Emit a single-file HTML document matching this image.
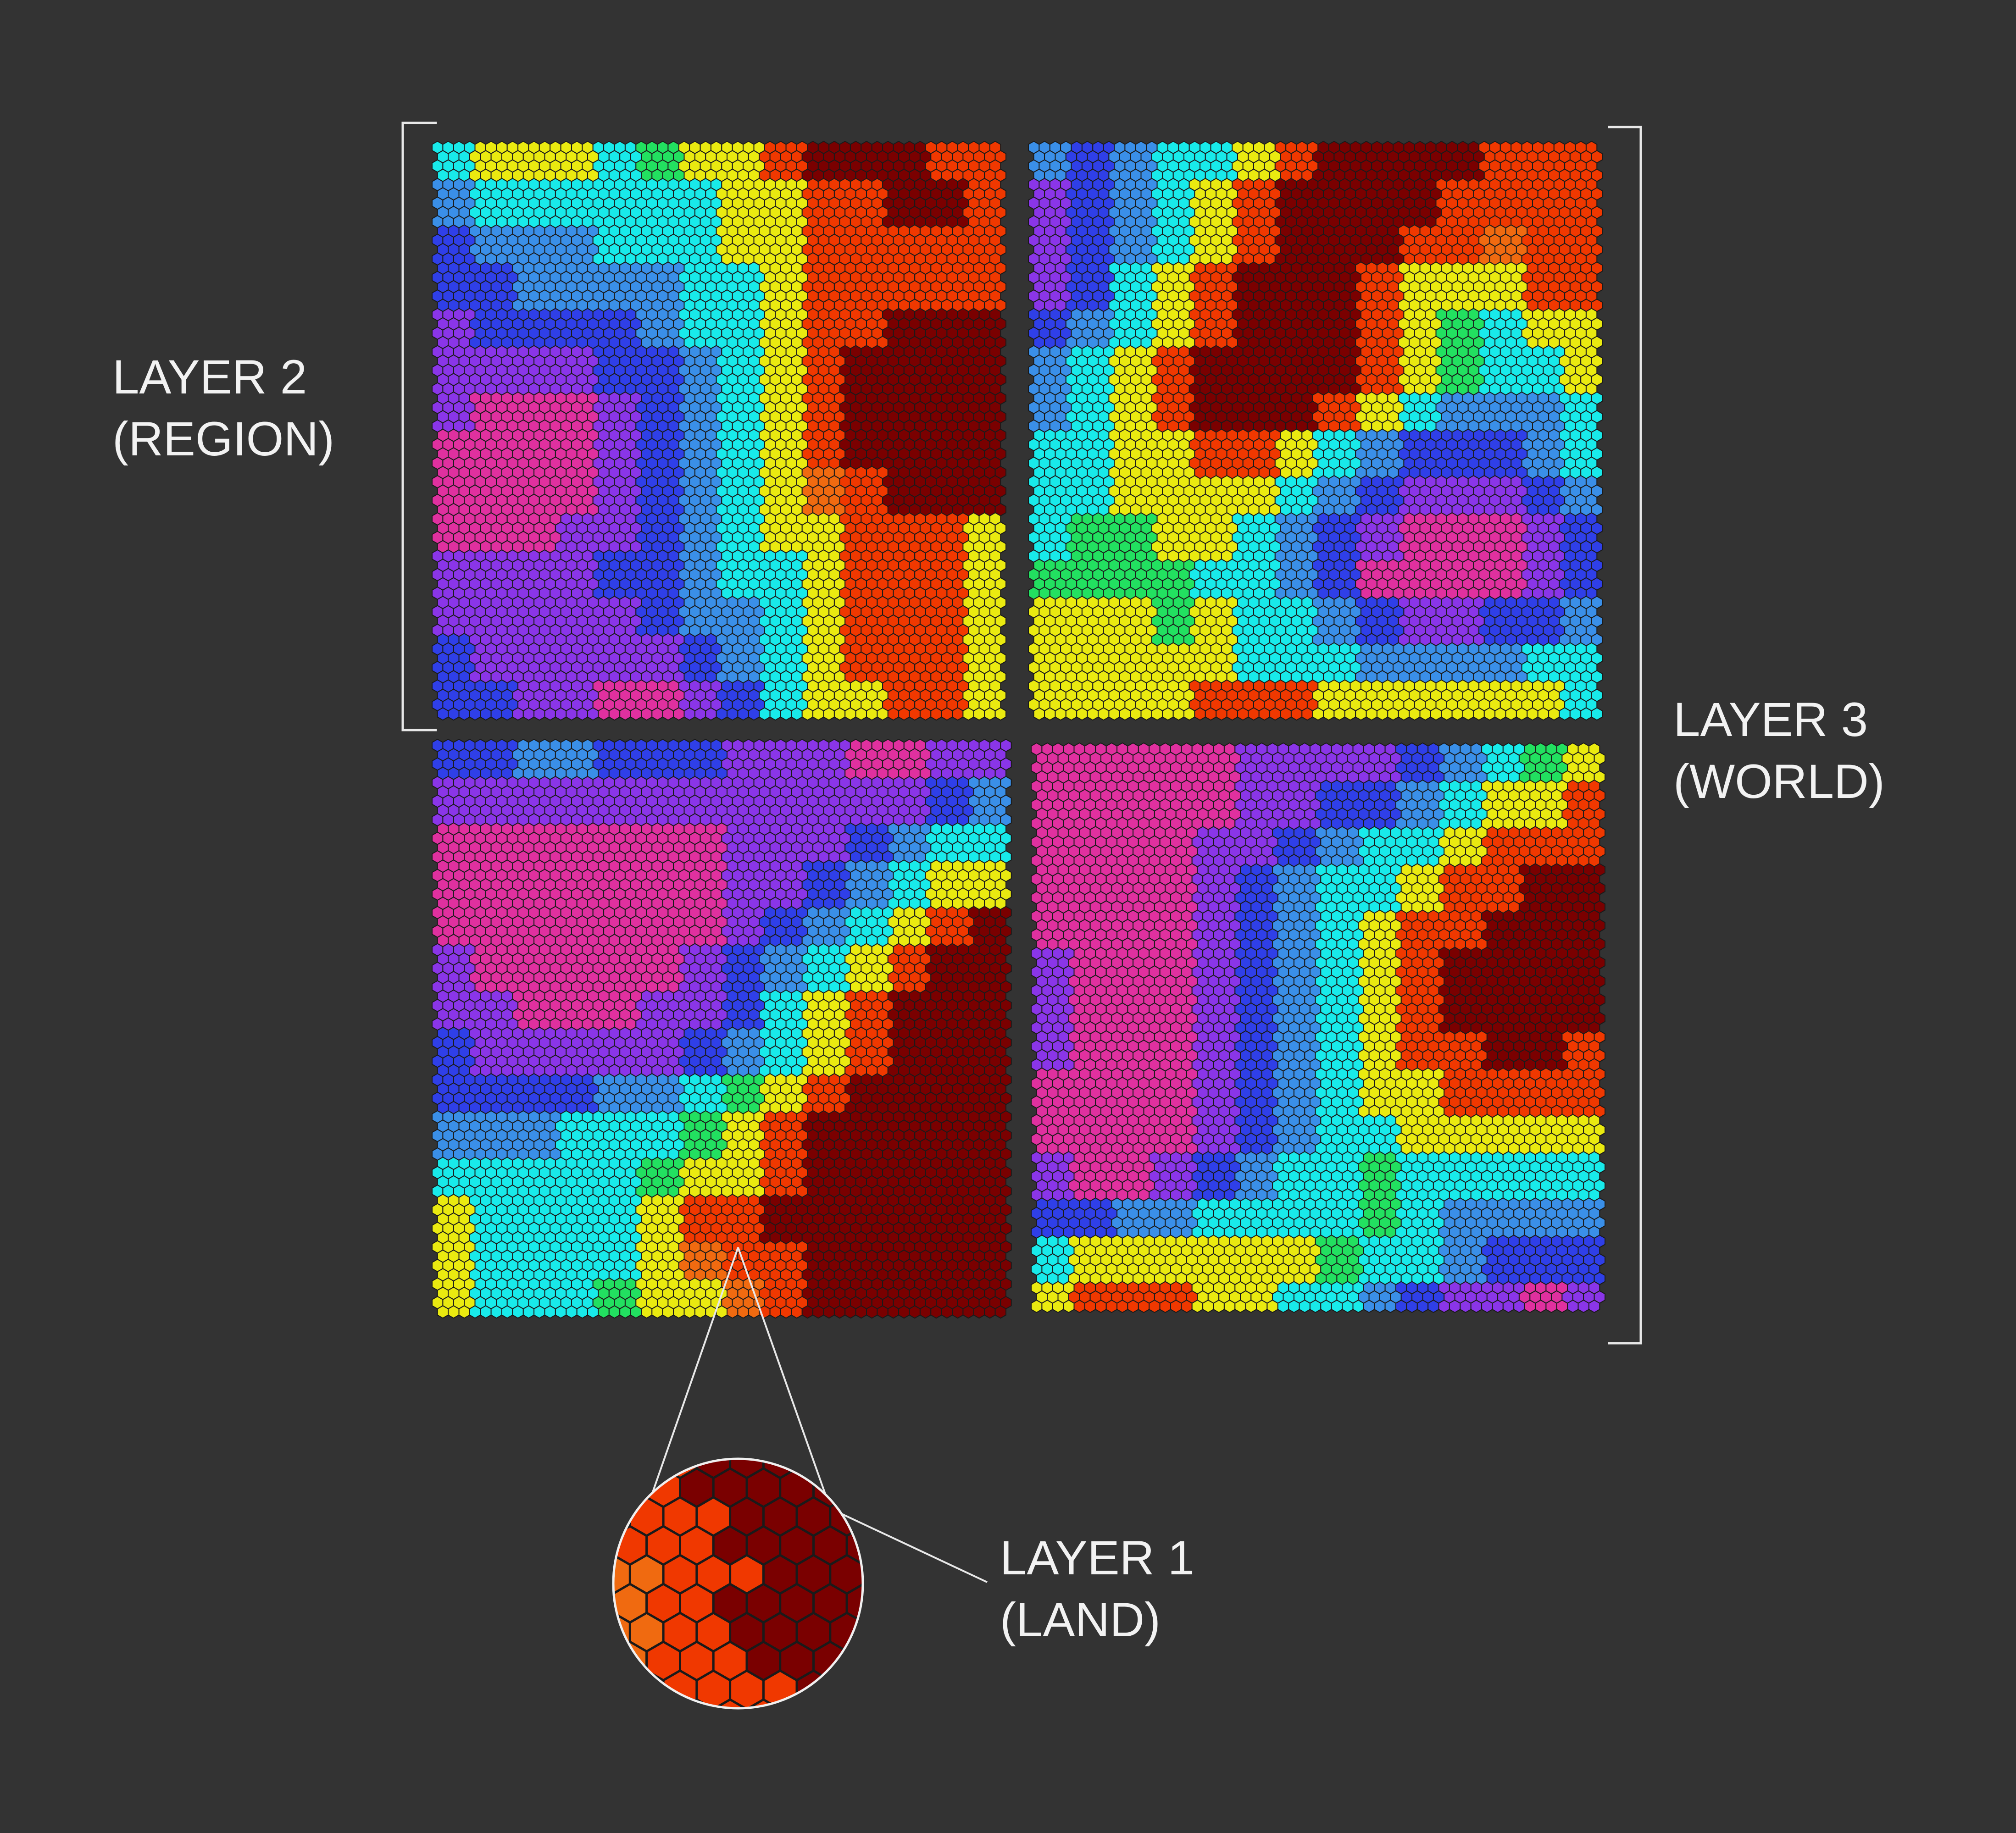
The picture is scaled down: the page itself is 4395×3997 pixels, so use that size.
<!DOCTYPE html>
<html><head><meta charset="utf-8">
<style>
html,body{margin:0;padding:0;background:#333333;}
svg{display:block;}
text{font-family:"Liberation Sans",sans-serif;fill:#f2f2f2;font-size:105px;}
</style></head>
<body>
<svg id="chart" width="4395" height="3997" viewBox="0 0 4395 3997" xmlns="http://www.w3.org/2000/svg">
<rect width="4395" height="3997" fill="#333333"/>
<g id="panels"></g>
<g stroke="#e8e8e8" stroke-width="5" fill="none">
<polyline points="952,268 878,268 878,1592 952,1592"/>
</g>
<g stroke="#e8e8e8" stroke-width="5" fill="none">
<polyline points="3505,277 3577,277 3577,2929 3505,2929"/>
</g>
<text x="245" y="858">LAYER 2</text>
<text x="245" y="993">(REGION)</text>
<text x="3648" y="1605">LAYER 3</text>
<text x="3648" y="1740">(WORLD)</text>
<text x="2180" y="3433">LAYER 1</text>
<text x="2180" y="3568">(LAND)</text>
<g stroke="#e8e8e8" stroke-width="4" fill="none">
<line x1="1609" y1="2720" x2="1420" y2="3262"/>
<line x1="1609" y1="2720" x2="1802" y2="3266"/>
<line x1="1760" y1="3266" x2="2152" y2="3450"/>
</g>
<defs><clipPath id="insetClip"><circle cx="1609" cy="3453" r="272"/></clipPath></defs>
<g id="inset" clip-path="url(#insetClip)"></g>
<circle cx="1609" cy="3453" r="272" fill="none" stroke="#f0f0f0" stroke-width="5"/>
</svg>
<script>
const palette = ["#e0309f","#8a35e8","#2f3fe8","#3a8fe8","#18eaea","#22e060","#eaea10","#f06a10","#f03800","#7a0000"];
const panelTL = [
"46664566899988","34444446688998","23334446688888","22333344688888","12222344688999","11112234689999","10001234689999","00001234689999","00001234678999","00011234668886","11112234468886","11111233468886","21111123468886","22110012466886"];
const panelTR = [
"32344689999888","12346899998888","12346899988788","12468999866688","23468999865466","34689999865446","34689998643334","44668864322234","44666643211123","45566432100012","55554432000012","66656443211223","66666444333344","66668886666664"];
const panelBL = [
"22332221110011","11111111111123","00000001112344","00000001123466","00000001234689","10000012346899","11000112468999","21111123468999","22223345689999","33344456899999","44444566899999","64444688999999","64444678899999","64445667899999"];
const panelBR = [
"00000111123456","00000112234668","00001123446888","00001234468899","00001234688999","10001234689999","10001234689999","10001234688998","00001234668888","00001234466666","10012344544444","22334444543333","46666665443222","68886644321101"];
const insetGrid = [
"8899999","8889999","8889999","7888999","7889999","7888999","8888899"];

const NS="http://www.w3.org/2000/svg";
const panels=[
 {name:"panel-top-left",grid:panelTL,x:942,y:308,w:1258,h:1262},
 {name:"panel-top-right",grid:panelTR,x:2242,y:308,w:1256,h:1270},
 {name:"panel-bottom-left",grid:panelBL,x:942,y:1612,w:1267,h:1275},
 {name:"panel-bottom-right",grid:panelBR,x:2248,y:1620,w:1250,h:1259}
];
function hexPts(cx,cy,r){
  let p=[];
  for(let k=0;k<6;k++){const a=Math.PI/180*(60*k-90);p.push((cx+r*Math.cos(a)).toFixed(1)+","+(cy+r*Math.sin(a)).toFixed(1));}
  return p.join(" ");
}
const root=document.getElementById("panels");
panels.forEach(P=>{
  const g=document.createElementNS(NS,"g");
  
  
  const r=13.5, hw=Math.sqrt(3)*r, vs=1.5*r;
  const rows=P.grid.length, cols=P.grid[0].length;
  let html="";
  for(let j=0; r+j*vs<=P.h-r+2; j++){
    const cy=P.y+r+j*vs;
    const off=(j%2)?hw/2:0;
    for(let i=0; hw/2+off+i*hw<=P.w-hw/2+2; i++){
      const cx=P.x+hw/2+off+i*hw;
      const gi=Math.min(cols-1,Math.floor((cx-P.x)/P.w*cols));
      const gj=Math.min(rows-1,Math.floor((cy-P.y)/P.h*rows));
      const v=+P.grid[gj][gi];
      html+='<polygon points="'+hexPts(cx,cy,r)+'" fill="'+palette[v]+'" stroke="#1a1a1a" stroke-width="2"/>';
    }
  }
  g.innerHTML=html;
  root.appendChild(g);
});
(function(){
  const g=document.getElementById("inset");
  const cx0=1609-272, cy0=3453-272, size=544, r=42, hw=Math.sqrt(3)*r, vs=1.5*r;
  let html='<rect x="'+cx0+'" y="'+cy0+'" width="544" height="544" fill="#7a0000"/>';
  const rows=insetGrid.length, cols=insetGrid[0].length;
  for(let j=-1; j*vs<size+r; j++){
    const cy=cy0+j*vs;
    const off=(Math.abs(j)%2)?hw/2:0;
    for(let i=-1; i*hw<size+hw; i++){
      const cx=cx0+off+i*hw;
      const gi=Math.max(0,Math.min(cols-1,Math.floor((cx-cx0)/size*cols)));
      const gj=Math.max(0,Math.min(rows-1,Math.floor((cy-cy0)/size*rows)));
      const v=+insetGrid[gj][gi];
      html+='<polygon points="'+hexPts(cx,cy,r)+'" fill="'+palette[v]+'" stroke="#1a1a1a" stroke-width="5"/>';
    }
  }
  g.innerHTML=html;
})();
</script>
</body></html>
